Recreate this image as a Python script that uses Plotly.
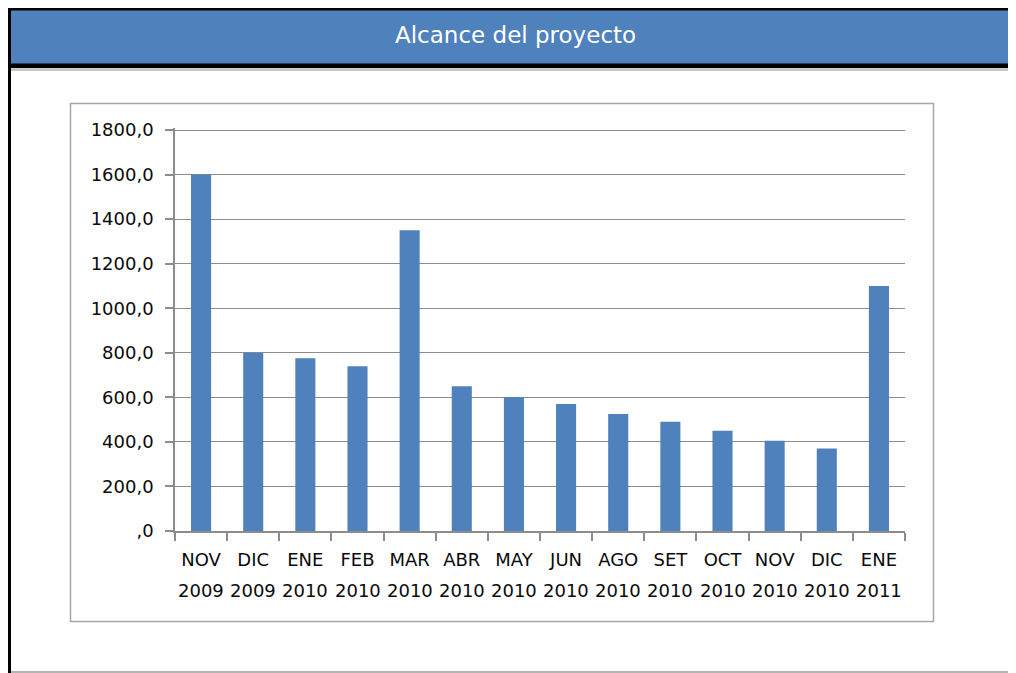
import plotly.graph_objects as go

months = ["NOV", "DIC", "ENE", "FEB", "MAR", "ABR", "MAY", "JUN", "AGO", "SET", "OCT", "NOV", "DIC", "ENE"]
years = ["2009", "2009", "2010", "2010", "2010", "2010", "2010", "2010", "2010", "2010", "2010", "2010", "2010", "2011"]
values = [1600, 800, 775, 740, 1350, 650, 600, 570, 525, 490, 450, 405, 370, 1100]
y_ticks = [0, 200, 400, 600, 800, 1000, 1200, 1400, 1600, 1800]
y_ticktext = [",0", "200,0", "400,0", "600,0", "800,0", "1000,0", "1200,0", "1400,0", "1600,0", "1800,0"]

categories = [f"{m} {y} #{i}" for i, (m, y) in enumerate(zip(months, years))]

# the page body adds an 8px margin, so the figure sits at (8, 8) of the window
OFF = 8
W, H = 1016 - OFF, 673 - OFF
L, R, T, B = 175 - OFF, 905 - OFF, 128 - OFF, 531 - OFF   # plot area in figure pixels
BLUE = "#4F81BD"
GRAY = "#8C8C8C"
TXT = "#0a0a0a"
FONT = "DejaVu Sans"


def px(x):
    # window pixel -> paper x
    return (x - OFF - L) / (R - L)


def py(y):
    # window pixel -> paper y
    return (B - (y - OFF)) / (B - T)


fig = go.Figure()
fig.add_trace(go.Bar(x=categories, y=values, marker=dict(color=BLUE, line=dict(width=0)), hoverinfo="y"))

# year line under each month label
for cat, yr in zip(categories, years):
    fig.add_annotation(x=cat, y=0, xref="x", yref="paper", yanchor="middle", yshift=-59,
                       text=yr, showarrow=False, font=dict(family=FONT, size=18, color=TXT))

# header bar
fig.add_shape(type="rect", xref="paper", yref="paper", x0=px(9.5), x1=px(1030), y0=py(9), y1=py(65),
              fillcolor=BLUE, line=dict(color="black", width=3), layer="above")
fig.add_shape(type="line", xref="paper", yref="paper", x0=px(8), x1=px(1030), y0=py(66), y1=py(66),
              line=dict(color="black", width=4))
fig.add_shape(type="line", xref="paper", yref="paper", x0=px(11), x1=px(1030), y0=py(69.5), y1=py(69.5),
              line=dict(color="#c8c8c8", width=3))
fig.add_shape(type="line", xref="paper", yref="paper", x0=px(9.5), x1=px(9.5), y0=py(64), y1=py(680),
              line=dict(color="black", width=3))
fig.add_shape(type="line", xref="paper", yref="paper", x0=px(11), x1=px(1030), y0=py(672), y1=py(672),
              line=dict(color="#b4b4b4", width=2))
fig.add_annotation(x=px(515), y=py(35), xref="paper", yref="paper", xanchor="center", yanchor="middle",
                   text="Alcance del proyecto", showarrow=False,
                   font=dict(family=FONT, size=23, color="white"))

# chart frame
fig.add_shape(type="rect", xref="paper", yref="paper", x0=px(70.5), x1=px(933.5), y0=py(103.5), y1=py(621.5),
              line=dict(color="#a6a6a6", width=1.5), fillcolor="rgba(0,0,0,0)", layer="below")

fig.update_layout(
    width=W, height=H,
    margin=dict(l=L, r=W - R, t=T, b=H - B),
    paper_bgcolor="white", plot_bgcolor="white",
    bargap=0.615, showlegend=False,
    font=dict(family=FONT, size=18, color=TXT),
)
fig.update_xaxes(type="category", range=[-0.5, 13.5], tickmode="array", tickvals=categories, ticktext=months,
                 tickson="boundaries", ticks="outside", ticklen=8, tickcolor=GRAY, tickwidth=1.5,
                 showline=True, linecolor=GRAY, linewidth=1.5, showgrid=False, ticklabelstandoff=12,
                 tickfont=dict(family=FONT, size=18, color=TXT))
fig.update_yaxes(range=[0, 1809], tickmode="array", tickvals=y_ticks, ticktext=y_ticktext,
                 ticks="outside", ticklen=8, tickcolor=GRAY, tickwidth=1.5,
                 showline=True, linecolor=GRAY, linewidth=1.5, showgrid=True, gridcolor=GRAY, gridwidth=1.2,
                 zeroline=False, ticklabelstandoff=8, tickfont=dict(family=FONT, size=18, color=TXT))

fig.write_html("out.html")
